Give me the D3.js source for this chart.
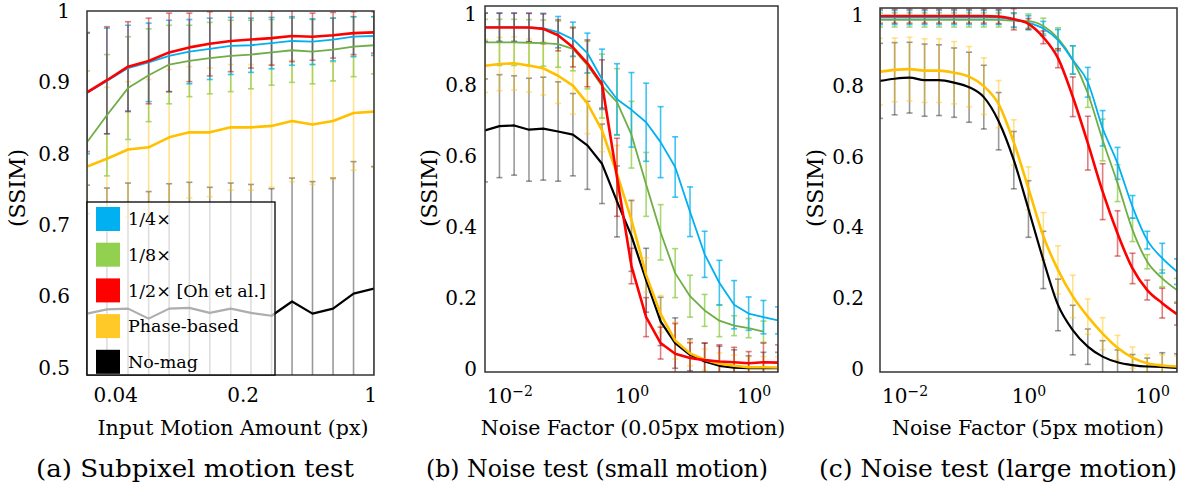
<!DOCTYPE html>
<html>
<head>
<meta charset="utf-8">
<script src="https://cdn.jsdelivr.net/npm/d3@7"></script>
<style>
  body { margin: 0; background: #fff; }
  svg { display: block; }
</style>
</head>
<body>
<svg id="chart" width="1184" height="491"></svg>
<script>
// ---------------- data ----------------
const seriesKeys = ["nomag", "phase", "eighth", "quarter", "half"];   // draw order
const legendNames = ["1/4×", "1/8×", "1/2× [Oh et al.]", "Phase-based", "No-mag"];

// (a) subpixel motion test
const motionAmount = [0.028, 0.036, 0.047, 0.061, 0.079, 0.102, 0.132, 0.172, 0.222, 0.288, 0.373, 0.483, 0.626, 0.811, 1.05];
const subQuarter = [0.885, 0.902, 0.920, 0.928, 0.937, 0.943, 0.947, 0.951, 0.952, 0.955, 0.958, 0.957, 0.960, 0.964, 0.965];
const subEighth  = [0.816, 0.854, 0.892, 0.910, 0.925, 0.930, 0.934, 0.937, 0.939, 0.942, 0.945, 0.943, 0.946, 0.950, 0.952];
const subHalf    = [0.886, 0.903, 0.922, 0.930, 0.942, 0.949, 0.954, 0.958, 0.960, 0.962, 0.965, 0.964, 0.966, 0.969, 0.970];
const subPhase   = [0.782, 0.793, 0.806, 0.809, 0.823, 0.830, 0.830, 0.837, 0.837, 0.839, 0.846, 0.841, 0.846, 0.857, 0.859];
const subNoMag   = [0.576, 0.582, 0.583, 0.569, 0.583, 0.584, 0.577, 0.583, 0.577, 0.573, 0.593, 0.576, 0.583, 0.604, 0.611];
const subQuarterErr = [0.085, 0.074, 0.060, 0.055, 0.050, 0.045, 0.043, 0.040, 0.038, 0.036, 0.034, 0.032, 0.030, 0.028, 0.027];
const subEighthErr  = [0.100, 0.085, 0.072, 0.065, 0.055, 0.050, 0.050, 0.050, 0.048, 0.046, 0.045, 0.045, 0.044, 0.042, 0.040];
const subHalfErr    = [0.083, 0.075, 0.063, 0.060, 0.055, 0.048, 0.045, 0.043, 0.040, 0.038, 0.036, 0.033, 0.032, 0.030, 0.029];
const subPhaseErr   = [0.105, 0.100, 0.095, 0.095, 0.095, 0.092, 0.090, 0.088, 0.088, 0.086, 0.085, 0.084, 0.082, 0.080, 0.078];
const subNoMagErr   = [0.180, 0.170, 0.176, 0.178, 0.175, 0.176, 0.176, 0.176, 0.180, 0.178, 0.173, 0.185, 0.183, 0.185, 0.171];

// noise factor (shared by b and c)
const noiseFactor = [0.004, 0.0069, 0.012, 0.021, 0.036, 0.063, 0.11, 0.19, 0.33, 0.58, 1.0, 1.74, 3.0, 5.2, 9.1, 15.8, 27.5, 48, 83, 145, 251];

// (b) noise test, small motion
const smallQuarter = [0.963, 0.963, 0.963, 0.962, 0.960, 0.949, 0.929, 0.890, 0.816, 0.760, 0.730, 0.695, 0.639, 0.569, 0.443, 0.323, 0.243, 0.181, 0.156, 0.146, 0.137];
const smallEighth  = [0.920, 0.920, 0.920, 0.919, 0.918, 0.915, 0.902, 0.856, 0.797, 0.752, 0.660, 0.520, 0.385, 0.270, 0.205, 0.165, 0.136, 0.122, 0.115, 0.105, null];
const smallHalf    = [0.962, 0.962, 0.962, 0.962, 0.958, 0.940, 0.906, 0.861, 0.803, 0.540, 0.290, 0.146, 0.073, 0.043, 0.031, 0.025, 0.021, 0.019, 0.016, 0.019, 0.018];
const smallPhase   = [0.854, 0.859, 0.861, 0.855, 0.847, 0.826, 0.798, 0.748, 0.672, 0.550, 0.420, 0.265, 0.155, 0.080, 0.044, 0.026, 0.015, 0.009, 0.005, 0.005, 0.004];
const smallNoMag   = [0.672, 0.684, 0.686, 0.674, 0.677, 0.669, 0.660, 0.630, 0.578, 0.472, 0.375, 0.250, 0.134, 0.073, 0.040, 0.021, 0.009, 0.004, 0.002, 0.002, 0.002];
const smallQuarterErr = [0.040, 0.040, 0.040, 0.040, 0.042, 0.044, 0.048, 0.056, 0.085, 0.100, 0.105, 0.110, 0.100, 0.085, 0.070, 0.065, 0.063, 0.068, 0.047, 0.047, 0.038];
const smallEighthErr  = [0.065, 0.065, 0.065, 0.065, 0.065, 0.065, 0.062, 0.067, 0.090, 0.094, 0.094, 0.090, 0.078, 0.069, 0.059, 0.045, 0.045, 0.028, 0.027, 0.030, null];
const smallHalfErr    = [0.040, 0.040, 0.040, 0.040, 0.042, 0.044, 0.055, 0.066, 0.068, 0.110, 0.050, 0.055, 0.045, 0.085, 0.043, 0.048, 0.047, 0.042, 0.033, 0.054, 0.050];
const smallPhaseErr   = [0.075, 0.075, 0.075, 0.075, 0.075, 0.078, 0.080, 0.085, 0.060, 0.080, 0.052, 0.048, 0.052, 0.052, 0.035, 0.030, 0.030, 0.030, 0.030, 0.030, 0.030];
const smallNoMagErr   = [0.145, 0.145, 0.140, 0.145, 0.145, 0.140, 0.116, 0.124, 0.112, 0.100, 0.100, 0.090, 0.068, 0.071, 0.045, 0.052, 0.055, 0.050, 0.035, 0.045, 0.045];

// (c) noise test, large motion
const largeQuarter = [0.993, 0.993, 0.993, 0.993, 0.993, 0.993, 0.993, 0.993, 0.993, 0.986, 0.978, 0.962, 0.929, 0.873, 0.810, 0.680, 0.581, 0.458, 0.364, 0.313, 0.275];
const largeEighth  = [0.986, 0.986, 0.986, 0.986, 0.986, 0.986, 0.986, 0.986, 0.986, 0.984, 0.983, 0.969, 0.934, 0.873, 0.779, 0.647, 0.525, 0.393, 0.303, 0.256, 0.223];
const largeHalf    = [0.997, 0.997, 0.997, 0.997, 0.997, 0.997, 0.997, 0.997, 0.996, 0.988, 0.975, 0.937, 0.878, 0.769, 0.638, 0.501, 0.383, 0.284, 0.223, 0.186, 0.155];
const largePhase   = [0.840, 0.845, 0.847, 0.843, 0.843, 0.837, 0.826, 0.799, 0.748, 0.640, 0.510, 0.375, 0.280, 0.205, 0.148, 0.100, 0.060, 0.032, 0.016, 0.010, 0.007];
const largeNoMag   = [0.814, 0.820, 0.823, 0.816, 0.816, 0.809, 0.796, 0.768, 0.700, 0.590, 0.452, 0.308, 0.181, 0.110, 0.063, 0.035, 0.019, 0.011, 0.007, 0.006, 0.003];
const largeQuarterErr = [0.020, 0.020, 0.020, 0.020, 0.020, 0.020, 0.020, 0.020, 0.020, 0.020, 0.020, 0.020, 0.030, 0.040, 0.042, 0.050, 0.045, 0.032, 0.025, 0.042, 0.036];
const largeEighthErr  = [0.020, 0.020, 0.020, 0.020, 0.020, 0.020, 0.020, 0.020, 0.020, 0.020, 0.020, 0.022, 0.030, 0.040, 0.040, 0.059, 0.052, 0.033, 0.020, 0.024, 0.033];
const largeHalfErr    = [0.020, 0.020, 0.020, 0.020, 0.020, 0.020, 0.020, 0.020, 0.020, 0.030, 0.015, 0.018, 0.027, 0.056, 0.076, 0.079, 0.064, 0.043, 0.028, 0.042, 0.031];
const largePhaseErr   = [0.094, 0.090, 0.090, 0.090, 0.090, 0.088, 0.085, 0.080, 0.067, 0.064, 0.061, 0.067, 0.068, 0.060, 0.050, 0.045, 0.035, 0.030, 0.025, 0.030, 0.030];
const largeNoMagErr   = [0.106, 0.102, 0.100, 0.102, 0.100, 0.098, 0.099, 0.090, 0.081, 0.081, 0.080, 0.081, 0.073, 0.070, 0.050, 0.045, 0.035, 0.030, 0.024, 0.040, 0.040];

// tick labels
const yTicksA = [0.5, 0.6, 0.7, 0.8, 0.9, 1];
const yLabelsA = ["0.5", "0.6", "0.7", "0.8", "0.9", "1"];
const yTicksBC = [0, 0.2, 0.4, 0.6, 0.8, 1];
const yLabelsBC = ["0", "0.2", "0.4", "0.6", "0.8", "1"];
const xTicksA = [0.04, 0.2, 1];
const xLabelsA = ["0.04", "0.2", "1"];
const xTicksBC = [0.01, 1, 100];
const xLabelBase = ["10", "10", "10"];
const xLabelExp = ["\u22122", "0", "0"];

const xTitles = ["Input Motion Amount (px)", "Noise Factor (0.05px motion)", "Noise Factor (5px motion)"];
const captions = ["(a) Subpixel motion test", "(b) Noise test (small motion)", "(c) Noise test (large motion)"];
const yTitle = "(SSIM)";

// ---------------- styles ----------------
const FONT = "'DejaVu Serif', serif";
const lineStyle = {
  quarter: { color: "#00b0f0", width: 1.8 },
  eighth:  { color: "#70ad47", width: 1.8 },
  half:    { color: "#ff0000", width: 2.6 },
  phase:   { color: "#ffc000", width: 2.6 },
  nomag:   { color: "#000000", width: 2.2 }
};
const errStyle = {
  quarter: { color: "#00b0f0", op: 0.75 },
  eighth:  { color: "#92d050", op: 0.8 },
  half:    { color: "#c00000", op: 0.5 },
  phase:   { color: "#ffc000", op: 0.45 },
  nomag:   { color: "#000000", op: 0.4 }
};
const swatchColor = ["#00b0f0", "#92d050", "#ff0000", "#ffca28", "#000000"];

const svg = d3.select("#chart");
const defs = svg.append("defs");

function drawPanel(p) {
  const x = d3.scaleLog().domain(p.xDomain).range([p.left, p.right]);
  const y = d3.scaleLinear().domain(p.yDomain).range([p.bottom, p.top]);
  const g = svg.append("g");

  defs.append("clipPath").attr("id", p.id)
    .append("rect")
    .attr("x", p.left).attr("y", p.top)
    .attr("width", p.right - p.left).attr("height", p.bottom - p.top);

  const plot = g.append("g").attr("clip-path", `url(#${p.id})`);

  // error bars
  seriesKeys.forEach(k => {
    const s = p.series[k];
    const st = errStyle[k];
    const eg = plot.append("g")
      .attr("stroke", st.color).attr("stroke-opacity", st.op)
      .attr("stroke-width", 1.6);
    s.values.forEach((v, i) => {
      if (v == null) return;
      const cx = x(p.xs[i]);
      const y1 = y(v - s.err[i]), y2 = y(v + s.err[i]);
      eg.append("line").attr("x1", cx).attr("x2", cx).attr("y1", y1).attr("y2", y2);
      eg.append("line").attr("x1", cx - 3).attr("x2", cx + 3).attr("y1", y1).attr("y2", y1);
      eg.append("line").attr("x1", cx - 3).attr("x2", cx + 3).attr("y1", y2).attr("y2", y2);
    });
  });

  // lines
  seriesKeys.forEach(k => {
    const s = p.series[k];
    const pts = s.values.map((v, i) => [p.xs[i], v]);
    const line = d3.line()
      .defined(d => d[1] != null)
      .x(d => x(d[0])).y(d => y(d[1]))
      .curve(p.curve);
    plot.append("path")
      .datum(pts)
      .attr("fill", "none")
      .attr("stroke", lineStyle[k].color)
      .attr("stroke-width", lineStyle[k].width)
      .attr("stroke-linejoin", "round")
      .attr("d", line);
  });

  // frame
  g.append("rect")
    .attr("x", p.left).attr("y", p.top)
    .attr("width", p.right - p.left).attr("height", p.bottom - p.top)
    .attr("fill", "none").attr("stroke", "#333").attr("stroke-width", 1.5);

  // y axis
  const ya = g.append("g")
    .attr("transform", `translate(${p.left},0)`)
    .call(d3.axisLeft(y).tickValues(p.yTicks)
      .tickFormat((d, i) => p.yLabels[i]).tickSize(0).tickPadding(p.yPad));
  ya.select(".domain").remove();
  ya.selectAll("text").attr("font-family", FONT).attr("font-size", 20).attr("fill", "#000");

  // x axis
  const xa = g.append("g")
    .attr("transform", `translate(0,${p.bottom})`)
    .call(d3.axisBottom(x).tickValues(p.xTicks)
      .tickFormat((d, i) => p.xLabels ? p.xLabels[i] : "").tickSize(0).tickPadding(p.xPad));
  xa.select(".domain").remove();
  xa.selectAll("text").attr("font-family", FONT).attr("font-size", 20).attr("fill", "#000");
  if (!p.xLabels) {
    xa.selectAll("text").each(function(d, i) {
      const t = d3.select(this);
      t.append("tspan").text(xLabelBase[i]);
      t.append("tspan").attr("font-size", 14).attr("dy", "-0.55em").text(xLabelExp[i]);
    });
  }

  // titles
  g.append("text")
    .attr("x", p.titleX).attr("y", 435)
    .attr("text-anchor", "middle")
    .attr("font-family", FONT).attr("font-size", 20.5)
    .text(p.xTitle);
  g.append("text")
    .attr("transform", `translate(${p.yTitleX},188) rotate(-90)`)
    .attr("text-anchor", "middle").attr("dominant-baseline", "central")
    .attr("font-family", FONT).attr("font-size", 22)
    .text(yTitle);
  g.append("text")
    .attr("x", p.captionX).attr("y", 477)
    .attr("text-anchor", "middle")
    .attr("font-family", FONT).attr("font-size", 25)
    .attr("textLength", p.captionW).attr("lengthAdjust", "spacingAndGlyphs")
    .text(p.caption);

  return g;
}

function pack(vals, errs) {
  const o = {};
  ["quarter", "eighth", "half", "phase", "nomag"].forEach((k, i) => {
    o[k] = { values: vals[i], err: errs[i] };
  });
  return o;
}

const panelA = drawPanel({
  id: "clipA", left: 87, right: 374, top: 11, bottom: 375,
  xDomain: [motionAmount[0], motionAmount[motionAmount.length - 1]],
  yDomain: [0.49, 1.0], xs: motionAmount, curve: d3.curveLinear,
  yTicks: yTicksA, yLabels: yLabelsA, yPad: 17,
  xTicks: xTicksA, xLabels: xLabelsA, xPad: 13,
  xTitle: xTitles[0], titleX: 233, yTitleX: 17,
  caption: captions[0], captionX: 195, captionW: 318,
  series: pack([subQuarter, subEighth, subHalf, subPhase, subNoMag],
               [subQuarterErr, subEighthErr, subHalfErr, subPhaseErr, subNoMagErr])
});

drawPanel({
  id: "clipB", left: 485, right: 778, top: 6, bottom: 372,
  xDomain: [noiseFactor[0], noiseFactor[noiseFactor.length - 1]],
  yDomain: [-0.0085, 1.0225], xs: noiseFactor, curve: d3.curveLinear,
  yTicks: yTicksBC, yLabels: yLabelsBC, yPad: 8,
  xTicks: xTicksBC, xLabels: null, xPad: 17,
  xTitle: xTitles[1], titleX: 633, yTitleX: 429,
  caption: captions[1], captionX: 597, captionW: 342,
  series: pack([smallQuarter, smallEighth, smallHalf, smallPhase, smallNoMag],
               [smallQuarterErr, smallEighthErr, smallHalfErr, smallPhaseErr, smallNoMagErr])
});

drawPanel({
  id: "clipC", left: 880, right: 1177, top: 8, bottom: 372,
  xDomain: [noiseFactor[0], noiseFactor[noiseFactor.length - 1]],
  yDomain: [-0.0085, 1.0198], xs: noiseFactor, curve: d3.curveMonotoneX,
  yTicks: yTicksBC, yLabels: yLabelsBC, yPad: 16,
  xTicks: xTicksBC, xLabels: null, xPad: 17,
  xTitle: xTitles[2], titleX: 1028, yTitleX: 815,
  caption: captions[2], captionX: 998, captionW: 358,
  series: pack([largeQuarter, largeEighth, largeHalf, largePhase, largeNoMag],
               [largeQuarterErr, largeEighthErr, largeHalfErr, largePhaseErr, largeNoMagErr])
});

// legend in panel (a)
const leg = panelA.append("g");
leg.append("rect")
  .attr("x", 87).attr("y", 202).attr("width", 188).attr("height", 173)
  .attr("fill", "#fff").attr("fill-opacity", 0.68)
  .attr("stroke", "#000").attr("stroke-width", 1.3);
legendNames.forEach((name, i) => {
  const cy = 219 + i * 35.7;
  leg.append("rect")
    .attr("x", 96).attr("y", cy - 12).attr("width", 24).attr("height", 24)
    .attr("fill", swatchColor[i]);
  leg.append("text")
    .attr("x", 128).attr("y", cy).attr("dy", "0.35em")
    .attr("font-family", FONT).attr("font-size", 17.5)
    .text(name);
});
</script>
</body>
</html>
